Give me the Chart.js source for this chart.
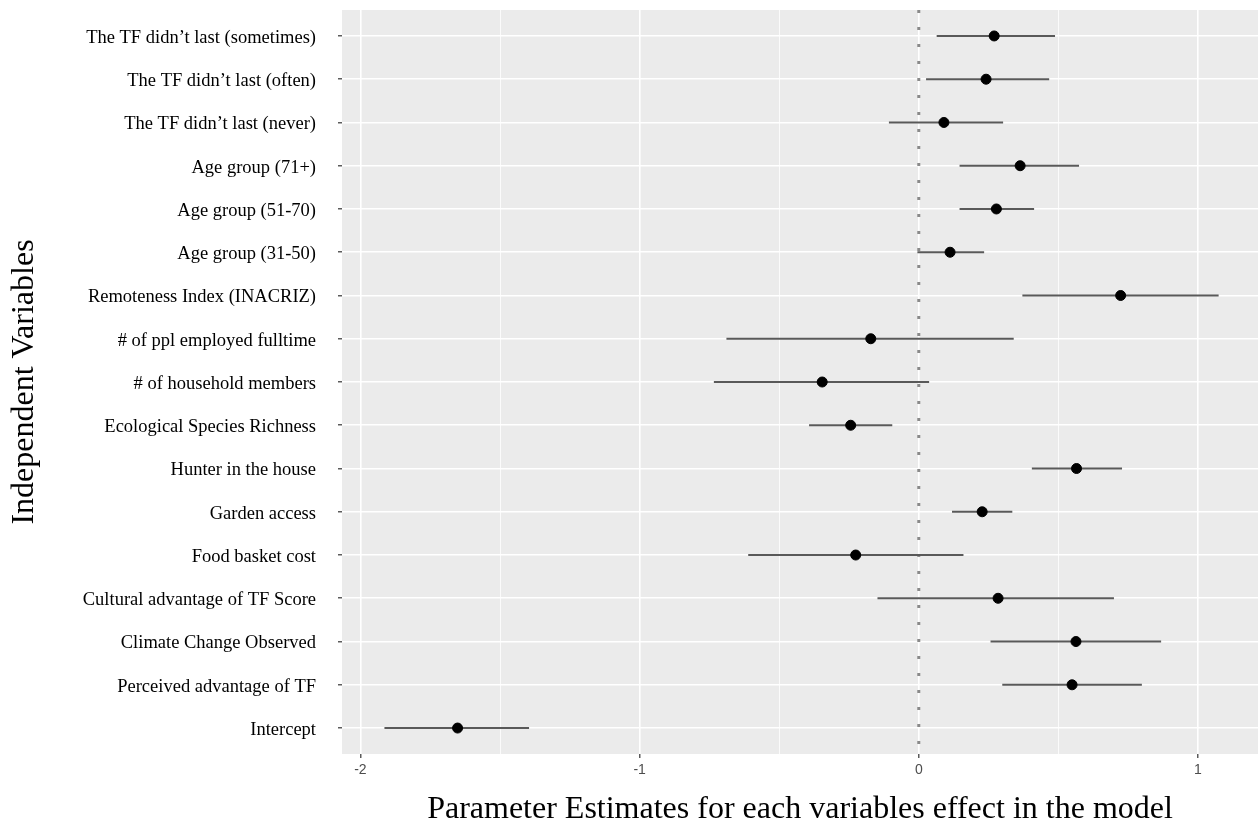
<!DOCTYPE html>
<html>
<head>
<meta charset="utf-8">
<script src="https://cdn.jsdelivr.net/npm/chart.js@4/dist/chart.umd.min.js"></script>
<style>
  html, body { margin: 0; padding: 0; background: #ffffff; }
  #wrap { width: 1259px; height: 827px; }
</style>
</head>
<body>
<div id="wrap"><canvas id="c" width="1259" height="827"></canvas></div>
<script>
// Categories, listed top to bottom as in the figure
const categories = [
  "The TF didn\u2019t last (sometimes)",
  "The TF didn\u2019t last (often)",
  "The TF didn\u2019t last (never)",
  "Age group (71+)",
  "Age group (51-70)",
  "Age group (31-50)",
  "Remoteness Index (INACRIZ)",
  "# of ppl employed fulltime",
  "# of household members",
  "Ecological Species Richness",
  "Hunter in the house",
  "Garden access",
  "Food basket cost",
  "Cultural advantage of TF Score",
  "Climate Change Observed",
  "Perceived advantage of TF",
  "Intercept"
];
const estimates = [0.270, 0.241, 0.090, 0.363, 0.278, 0.112, 0.723, -0.172, -0.346, -0.244, 0.565, 0.227, -0.226, 0.284, 0.563, 0.549, -1.652];
const lower     = [0.064, 0.026, -0.107, 0.146, 0.146, -0.005, 0.371, -0.689, -0.734, -0.393, 0.405, 0.119, -0.611, -0.148, 0.257, 0.299, -1.914];
const upper     = [0.488, 0.467, 0.302, 0.574, 0.413, 0.234, 1.074, 0.340, 0.037, -0.095, 0.728, 0.335, 0.160, 0.699, 0.868, 0.799, -1.396];
const xTickLabels = [-2, -1, 0, 1];
const referenceValue = 0;

const xTitle = "Parameter Estimates for each variables effect in the model";
const yTitle = "Independent Variables";

const yMin = -0.6, yMax = categories.length - 1 + 0.6;

const datasets = [];
// dotted zero reference line
datasets.push({
  type: 'line',
  data: [{x: referenceValue, y: yMin}, {x: referenceValue, y: yMax}],
  borderColor: '#8a8a8a',
  borderWidth: 3,
  borderDash: [3, 14],
  pointRadius: 0,
  order: 3
});
// error bars
categories.forEach((c, i) => {
  datasets.push({
    type: 'line',
    data: [{x: lower[i], y: i}, {x: upper[i], y: i}],
    borderColor: '#595959',
    borderWidth: 2,
    pointRadius: 0,
    order: 2
  });
});
// point estimates
datasets.push({
  type: 'scatter',
  data: estimates.map((v, i) => ({x: v, y: i})),
  backgroundColor: '#000000',
  borderColor: '#000000',
  pointRadius: 5,
  pointHoverRadius: 5,
  order: 1
});

const panelBg = {
  id: 'panelBg',
  beforeDraw(chart) {
    const {ctx, chartArea: a} = chart;
    ctx.save();
    ctx.fillStyle = '#EBEBEB';
    ctx.fillRect(a.left, a.top, a.right - a.left, a.bottom - a.top);
    ctx.restore();
  }
};

const isMajor = v => Math.abs(v - Math.round(v)) < 1e-6;
const zeroPad = s => { s.paddingTop = 0; s.paddingBottom = 0; s.paddingLeft = 0; s.paddingRight = 0; };

new Chart(document.getElementById('c'), {
  type: 'scatter',
  data: { datasets },
  plugins: [panelBg],
  options: {
    responsive: false,
    animation: false,
    events: [],
    layout: { autoPadding: false, padding: { top: 10, right: 1, bottom: 0, left: 0 } },
    plugins: { legend: { display: false }, tooltip: { enabled: false } },
    scales: {
      x: {
        type: 'linear',
        min: -2.066,
        max: 1.215,
        border: { display: false },
        afterFit(scale) { scale.height = 73; zeroPad(scale); },
        ticks: {
          stepSize: 0.5,
          includeBounds: false,
          autoSkip: false,
          maxRotation: 0,
          padding: 4,
          color: '#4D4D4D',
          font: { family: "'Liberation Sans', Arial, sans-serif", size: 14 },
          callback: (v) => xTickLabels.includes(v) ? String(v) : ''
        },
        grid: {
          color: '#FFFFFF',
          lineWidth: (ctx) => (ctx.tick && isMajor(ctx.tick.value)) ? 1.6 : 0.8,
          drawTicks: true,
          tickLength: 4,
          tickColor: (ctx) => (ctx.tick && isMajor(ctx.tick.value)) ? '#333333' : 'rgba(0,0,0,0)',
          tickWidth: 1.2
        },
        title: {
          display: true,
          text: xTitle,
          color: '#000000',
          font: { family: "'Liberation Serif', 'Times New Roman', serif", size: 32, lineHeight: 1 },
          padding: { top: 0, bottom: 1 }
        }
      },
      y: {
        type: 'linear',
        min: yMin,
        max: yMax,
        reverse: true,
        border: { display: false },
        afterFit(scale) { scale.width = 342; zeroPad(scale); },
        ticks: {
          stepSize: 1,
          includeBounds: false,
          autoSkip: false,
          padding: 22,
          labelOffset: 2,
          color: '#000000',
          font: { family: "'Liberation Serif', 'Times New Roman', serif", size: 18.5 },
          callback: (v) => (isMajor(v) && categories[Math.round(v)] !== undefined) ? categories[Math.round(v)] : ''
        },
        grid: {
          color: '#FFFFFF',
          lineWidth: 1.6,
          drawTicks: true,
          tickLength: 4,
          tickColor: '#333333',
          tickWidth: 1.2
        },
        title: {
          display: true,
          text: yTitle,
          color: '#000000',
          font: { family: "'Liberation Serif', 'Times New Roman', serif", size: 32, lineHeight: 1 },
          padding: { top: 9, bottom: 0 }
        }
      }
    }
  }
});
</script>
</body>
</html>
